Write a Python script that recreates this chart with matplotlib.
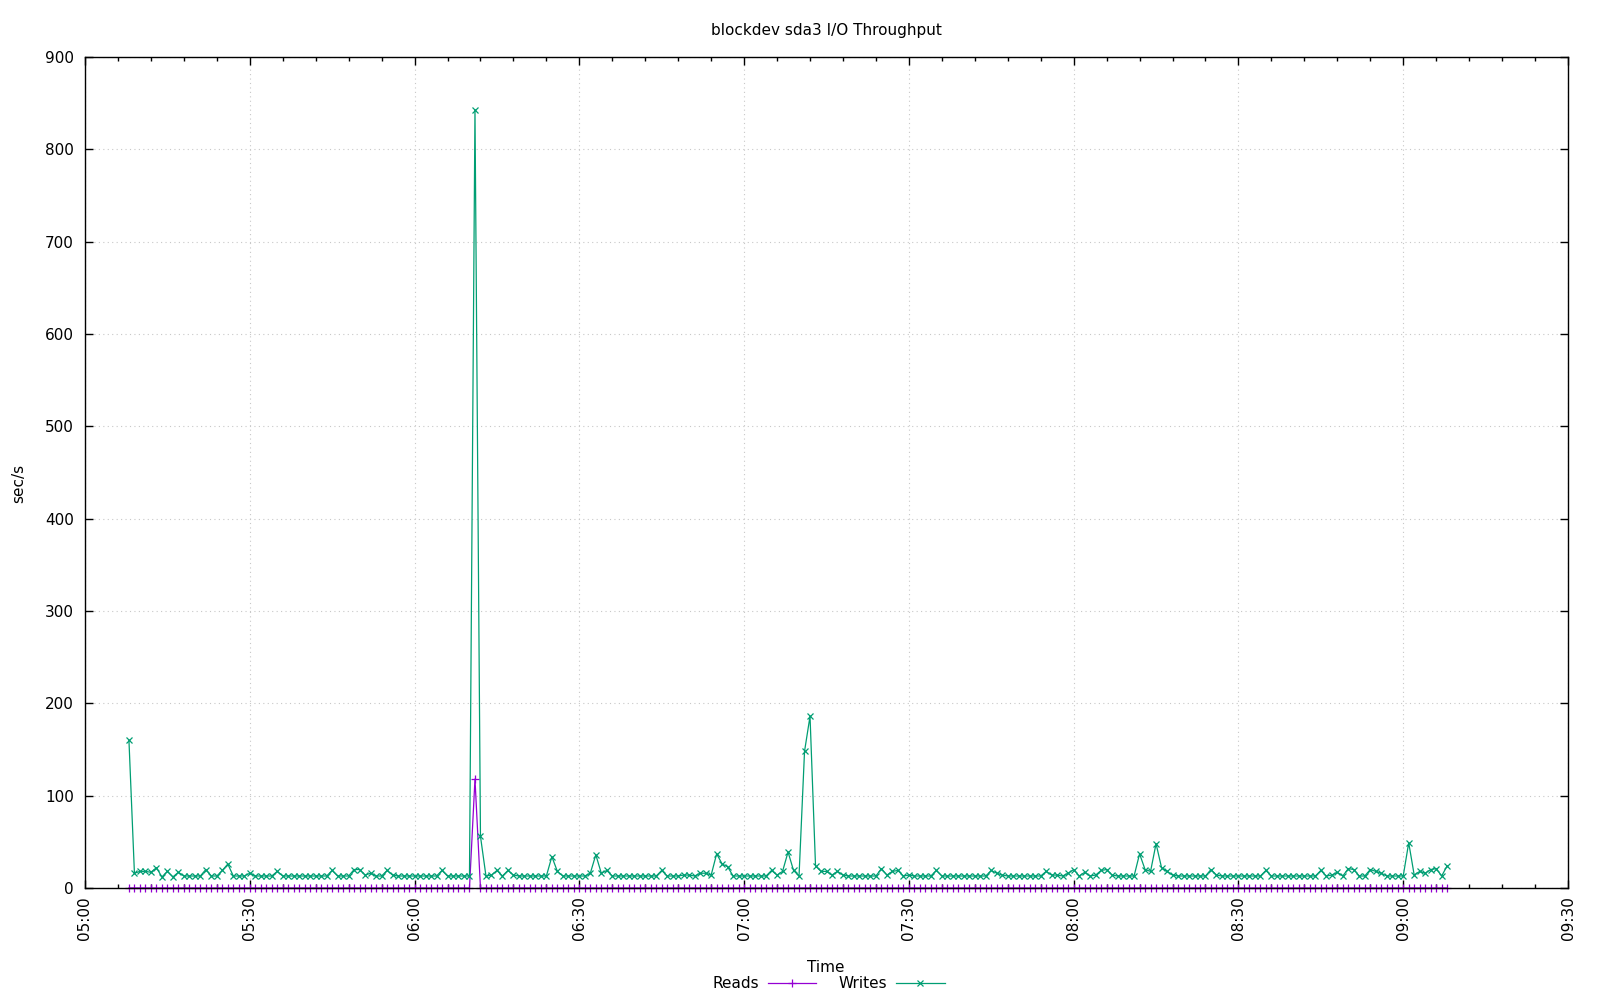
import datetime as dt
import matplotlib
matplotlib.use('Agg')
import matplotlib.pyplot as plt
import matplotlib.dates as mdates
from matplotlib.lines import Line2D

# one sample per minute, 05:08 .. 09:08
start_time = dt.datetime(2024, 1, 1, 5, 8)

writes = [
    160, 16, 18, 18, 17, 22, 12, 18, 12, 17, 13, 13, 13, 13, 20, 13, 13, 19, 26, 13,
    13, 13, 16, 13, 13, 13, 13, 18, 13, 13, 13, 13, 13, 13, 13, 13, 13, 19, 13, 13,
    13, 20, 20, 14, 16, 13, 13, 19, 14, 13, 13, 13, 13, 13, 13, 13, 13, 19, 13, 13,
    13, 13, 13, 843, 56, 13, 14, 19, 13, 19, 14, 13, 13, 13, 13, 13, 13, 34, 18, 13,
    13, 13, 13, 13, 16, 36, 16, 19, 13, 13, 13, 13, 13, 13, 13, 13, 13, 19, 13, 13,
    13, 14, 14, 13, 16, 16, 14, 37, 26, 23, 13, 13, 13, 13, 13, 13, 13, 19, 14, 18,
    39, 19, 13, 148, 186, 24, 18, 18, 14, 18, 14, 13, 13, 13, 13, 13, 13, 21, 14, 18,
    19, 13, 14, 13, 13, 13, 13, 19, 13, 13, 13, 13, 13, 13, 13, 13, 13, 19, 16, 14,
    13, 13, 13, 13, 13, 13, 13, 18, 14, 14, 13, 16, 20, 13, 17, 13, 14, 19, 20, 14,
    13, 13, 13, 13, 37, 20, 18, 48, 22, 18, 14, 13, 13, 13, 13, 13, 13, 20, 14, 13,
    13, 13, 13, 13, 13, 13, 13, 19, 13, 13, 13, 13, 13, 13, 13, 13, 13, 19, 13, 14,
    17, 13, 21, 20, 13, 13, 20, 18, 16, 13, 13, 13, 13, 49, 14, 18, 16, 20, 21, 13,
    24,
]

reads = [
    0, 0, 0, 0, 0, 0, 0, 0, 0, 0, 0, 0, 0, 0, 0, 0, 0, 0, 0, 0,
    0, 0, 0, 0, 0, 0, 0, 0, 0, 0, 0, 0, 0, 0, 0, 0, 0, 0, 0, 0,
    0, 0, 0, 0, 0, 0, 0, 0, 0, 0, 0, 0, 0, 0, 0, 0, 0, 0, 0, 0,
    0, 0, 0, 118, 0, 0, 0, 0, 0, 0, 0, 0, 0, 0, 0, 0, 0, 0, 0, 0,
    0, 0, 0, 0, 0, 0, 0, 0, 0, 0, 0, 0, 0, 0, 0, 0, 0, 0, 0, 0,
    0, 0, 0, 0, 0, 0, 0, 0, 0, 0, 0, 0, 0, 0, 0, 0, 0, 0, 0, 0,
    0, 0, 0, 0, 0, 0, 0, 0, 0, 0, 0, 0, 0, 0, 0, 0, 0, 0, 0, 0,
    0, 0, 0, 0, 0, 0, 0, 0, 0, 0, 0, 0, 0, 0, 0, 0, 0, 0, 0, 0,
    0, 0, 0, 0, 0, 0, 0, 0, 0, 0, 0, 0, 0, 0, 0, 0, 0, 0, 0, 0,
    0, 0, 0, 0, 0, 0, 0, 0, 0, 0, 0, 0, 0, 0, 0, 0, 0, 0, 0, 0,
    0, 0, 0, 0, 0, 0, 0, 0, 0, 0, 0, 0, 0, 0, 0, 0, 0, 0, 0, 0,
    0, 0, 0, 0, 0, 0, 0, 0, 0, 0, 0, 0, 0, 0, 0, 0, 0, 0, 0, 0,
    0,
]

times = [start_time + dt.timedelta(minutes=i) for i in range(len(writes))]

read_color = '#9400d3'
write_color = '#009e73'

fig = plt.figure(figsize=(16, 10), dpi=100)
ax = fig.add_axes([85/1600, 1-888/1000, (1568-85)/1600, (888-57)/1000])

ax.plot(times, reads, color=read_color, lw=0.9, marker='+', ms=6, mew=0.9, clip_on=False)
ax.plot(times, writes, color=write_color, lw=0.9, marker='x', ms=5, mew=0.9, clip_on=False)

ax.set_xlim(dt.datetime(2024, 1, 1, 5, 0), dt.datetime(2024, 1, 1, 9, 30))
ax.set_ylim(0, 900)
ax.set_yticks(range(0, 901, 100))

ax.xaxis.set_major_locator(mdates.MinuteLocator(byminute=[0, 30]))
ax.xaxis.set_minor_locator(mdates.MinuteLocator(byminute=range(0, 60, 6)))
ax.xaxis.set_major_formatter(mdates.DateFormatter('%H:%M'))

ax.tick_params(which='both', direction='in', top=True, right=True, labelsize=11)
ax.tick_params(which='major', length=6, width=1)
ax.tick_params(which='minor', length=3, width=1)
ax.tick_params(axis='x', which='major', pad=6)
ax.tick_params(axis='y', which='major', pad=8)
for lbl in ax.get_xticklabels():
    lbl.set_rotation(90)

ax.grid(True, which='major', color='#c8c8c8', linestyle=(0, (1, 3)), lw=0.8)
for s in ax.spines.values():
    s.set_linewidth(1)

fig.text(826/1600, 1-30/1000, 'blockdev sda3 I/O Throughput', ha='center', va='center', fontsize=11)
fig.text(19/1600, 1-483/1000, 'sec/s', rotation=90, ha='center', va='center', fontsize=11)
fig.text(826/1600, 1-967/1000, 'Time', ha='center', va='center', fontsize=11)

# gnuplot-style legend below the plot
ly = 1 - 983/1000
fig.text(759/1600, ly, 'Reads', ha='right', va='center', fontsize=11)
fig.add_artist(Line2D([768/1600, 816/1600], [ly, ly], color=read_color, lw=0.9))
fig.add_artist(Line2D([792/1600], [ly], color=read_color, marker='+', ms=6, mew=0.9))
fig.text(887/1600, ly, 'Writes', ha='right', va='center', fontsize=11)
fig.add_artist(Line2D([896/1600, 945/1600], [ly, ly], color=write_color, lw=0.9))
fig.add_artist(Line2D([920/1600], [ly], color=write_color, marker='x', ms=5, mew=0.9))

fig.savefig('out.png', dpi=100)
